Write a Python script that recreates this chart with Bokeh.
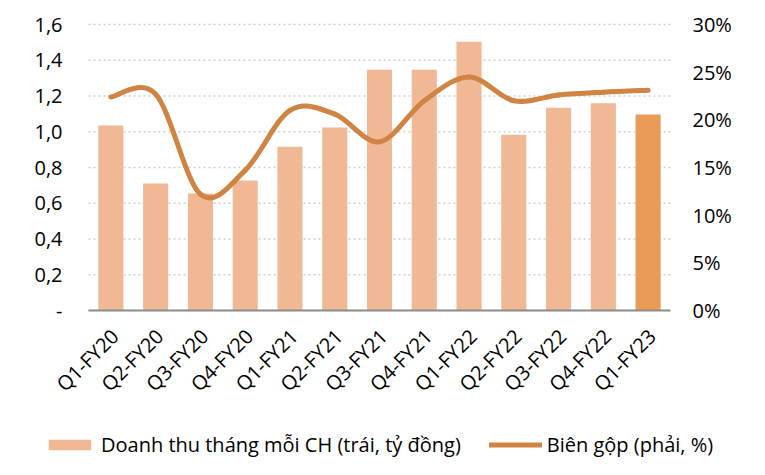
import math
from bokeh.plotting import figure
from bokeh.models import (Range1d, ColumnDataSource, Legend, LegendItem)
from bokeh.core.properties import value
from bokeh.embed import file_html
from bokeh.resources import INLINE

# ---------------- data ----------------
categories = ["Q1-FY20", "Q2-FY20", "Q3-FY20", "Q4-FY20", "Q1-FY21", "Q2-FY21",
              "Q3-FY21", "Q4-FY21", "Q1-FY22", "Q2-FY22", "Q3-FY22", "Q4-FY22",
              "Q1-FY23"]
revenue = [1.035, 0.71, 0.655, 0.727, 0.916, 1.024, 1.347, 1.347, 1.503,
           0.983, 1.134, 1.16, 1.097]          # left axis, tỷ đồng
margin = [22.4, 22.7, 12.2, 14.7, 21.0, 20.6, 17.7, 22.0, 24.5,
          22.0, 22.6, 22.9, 23.1]               # right axis, %
left_ticks = [0, 0.2, 0.4, 0.6, 0.8, 1.0, 1.2, 1.4, 1.6]
left_labels = ["-", "0,2", "0,4", "0,6", "0,8", "1,0", "1,2", "1,4", "1,6"]
right_ticks = [0, 5, 10, 15, 20, 25, 30]
right_labels = ["0%", "5%", "10%", "15%", "20%", "25%", "30%"]
bar_label = "Doanh thu tháng mỗi CH (trái, tỷ đồng)"
line_label = "Biên gộp (phải, %)"

FONT = "Open Sans"
FS = "20px"
BAR_LIGHT = "#F0B894"
BAR_DARK = "#EA9A56"
LINE_COLOR = "#D08443"

W, H = 765, 475
# plot area (pixels) inside the canvas
PL, PR, PT, PB = 88, 670, 24, 310
YMAX, PMAX = 1.6, 30.0

n = len(categories)
xs = [i + 0.5 for i in range(n)]
bar_colors = [BAR_LIGHT] * (n - 1) + [BAR_DARK]

# ranges so that the data area maps onto the plot area, while the frame
# spans the whole canvas (lets the legend sit below the labels)
ux = n / (PR - PL)
uy = YMAX / (PB - PT)
up = PMAX / (PB - PT)
x_range = Range1d(-PL * ux, n + (W - PR) * ux)
y_range = Range1d(-(H - PB) * uy, YMAX + PT * uy)

p = figure(width=W, height=H, output_backend="svg", toolbar_location=None,
           x_range=x_range, y_range=y_range,
           x_axis_type=None, y_axis_type=None,
           min_border_left=0, min_border_right=0, min_border_top=0,
           min_border_bottom=0, outline_line_color=None)
p.extra_y_ranges = {"pct": Range1d(-(H - PB) * up, PMAX + PT * up)}
p.xgrid.visible = False
p.ygrid.visible = False

# dotted horizontal grid at the left-axis ticks
p.segment(x0=[0] * (len(left_ticks) - 1), x1=[n] * (len(left_ticks) - 1),
          y0=left_ticks[1:], y1=left_ticks[1:], line_color="#CFCFCF",
          line_width=1.5, line_dash="2 3")

# bars
src = ColumnDataSource(dict(x=xs, top=revenue, color=bar_colors))
bars = p.vbar(x="x", top="top", width=0.56, source=src, fill_color="color",
              line_color=None)

# category axis baseline
p.segment(x0=[0], x1=[n], y0=[0], y1=[0], line_color="#8C8C8C", line_width=2)

# smooth line (Catmull-Rom bezier segments through the data points)
pts = list(zip(xs, margin))
x0, y0, x1, y1, cx0, cy0, cx1, cy1 = [], [], [], [], [], [], [], []
for i in range(n - 1):
    pm = pts[max(i - 1, 0)]
    pa = pts[i]
    pb = pts[i + 1]
    pn = pts[min(i + 2, n - 1)]
    x0.append(pa[0]); y0.append(pa[1])
    x1.append(pb[0]); y1.append(pb[1])
    cx0.append(pa[0] + (pb[0] - pm[0]) / 6); cy0.append(pa[1] + (pb[1] - pm[1]) / 6)
    cx1.append(pb[0] - (pn[0] - pa[0]) / 6); cy1.append(pb[1] - (pn[1] - pa[1]) / 6)
bsrc = ColumnDataSource(dict(x0=x0, y0=y0, x1=x1, y1=y1, cx0=cx0, cy0=cy0,
                             cx1=cx1, cy1=cy1))
curve = p.bezier(x0="x0", y0="y0", x1="x1", y1="y1", cx0="cx0", cy0="cy0",
                 cx1="cx1", cy1="cy1", source=bsrc, line_color=LINE_COLOR,
                 line_width=5, line_cap="round", y_range_name="pct")

txt = dict(text_font=value(FONT), text_font_size=value(FS),
           text_color="#000000")

# left tick labels
p.text(x=[0] * len(left_ticks), y=left_ticks, text=left_labels,
       x_offset=-26, text_align="right", text_baseline="middle", **txt)
# right tick labels
p.text(x=[n] * len(right_ticks), y=right_ticks, text=right_labels,
       x_offset=22, text_align="left", text_baseline="middle",
       y_range_name="pct", **txt)
# category labels (rotated 45 degrees)
p.text(x=xs, y=[0] * n, text=categories, angle=math.pi / 4,
       x_offset=4, y_offset=22, text_align="right", text_baseline="middle",
       **txt)

# legend
legend = Legend(items=[LegendItem(label=bar_label, renderers=[bars], index=0),
                       LegendItem(label=line_label, renderers=[curve])],
                orientation="horizontal", location=(43, 17),
                glyph_width=53, glyph_height=13, label_standoff=5, spacing=28,
                padding=0, margin=0, border_line_color=None,
                background_fill_alpha=0,
                label_text_font=FONT, label_text_font_size=FS,
                label_text_color="#000000")
p.add_layout(legend, "center")

open("out.html", "w").write(file_html(p, INLINE))
